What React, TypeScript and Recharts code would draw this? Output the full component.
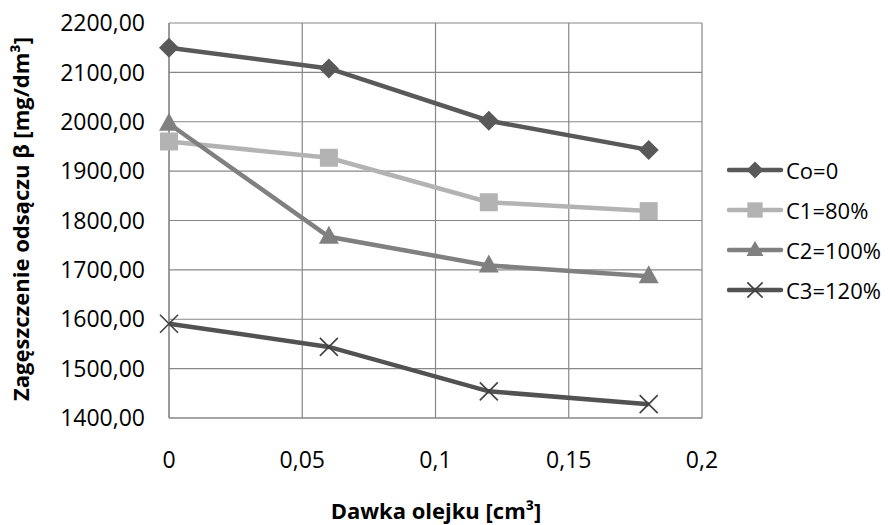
import React from 'react';
import { LineChart, Line, XAxis, YAxis, CartesianGrid, Legend } from 'recharts';

const doses = [0, 0.06, 0.12, 0.18];
const co0 = [2150, 2108, 2002, 1943];
const c1 = [1960, 1927, 1837, 1819];
const c2 = [1996, 1767, 1709, 1687];
const c3 = [1591, 1544, 1454, 1428];
const xTicks = [0, 0.05, 0.1, 0.15, 0.2];
const yTicks = [1400, 1500, 1600, 1700, 1800, 1900, 2000, 2100, 2200];
const seriesNames = ['Co=0', 'C1=80%', 'C2=100%', 'C3=120%'];
const xTitle = 'Dawka olejku [cm³]';
const yTitle = 'Zagęszczenie odsączu β [mg/dm³]';

const data = doses.map((d, i) => ({ dose: d, co0: co0[i], c1: c1[i], c2: c2[i], c3: c3[i] }));

const FONT = '"Open Sans", sans-serif';
const GRID = '#878787';

type Shape = 'diamond' | 'square' | 'triangle' | 'x';
const series: { key: string; name: string; color: string; marker: string; shape: Shape }[] = [
  { key: 'co0', name: seriesNames[0], color: '#595959', marker: '#595959', shape: 'diamond' },
  { key: 'c1', name: seriesNames[1], color: '#b3b3b3', marker: '#b3b3b3', shape: 'square' },
  { key: 'c2', name: seriesNames[2], color: '#808080', marker: '#808080', shape: 'triangle' },
  { key: 'c3', name: seriesNames[3], color: '#525252', marker: '#404040', shape: 'x' },
];

function marker(shape: Shape, cx: number, cy: number, color: string, s = 1, key?: any) {
  if (shape === 'diamond') {
    const h = 10 * s;
    return <polygon key={key} points={`${cx},${cy - h} ${cx + h},${cy} ${cx},${cy + h} ${cx - h},${cy}`} fill={color} />;
  }
  if (shape === 'square') {
    const h = 9 * s;
    return <rect key={key} x={cx - h} y={cy - h} width={2 * h} height={2 * h} fill={color} />;
  }
  if (shape === 'triangle') {
    const w = 10 * s;
    return <polygon key={key} points={`${cx},${cy - 11 * s} ${cx + w},${cy + 7 * s} ${cx - w},${cy + 7 * s}`} fill={color} />;
  }
  const h = 9 * s;
  return (
    <g key={key}>
      <line x1={cx - h} y1={cy - h} x2={cx + h} y2={cy + h} stroke={color} strokeWidth={1.6} />
      <line x1={cx - h} y1={cy + h} x2={cx + h} y2={cy - h} stroke={color} strokeWidth={1.6} />
    </g>
  );
}

const makeDot = (shape: Shape, color: string) => (props: any) => {
  const { cx, cy, index } = props;
  if (cx == null || cy == null) return <g key={index} />;
  return marker(shape, cx, cy, color, 1, index);
};

const renderLegend = () => (
  <div style={{ fontFamily: FONT, fontSize: 22, color: '#000' }}>
    {series.map((s) => (
      <div key={s.key} style={{ display: 'flex', alignItems: 'center', height: 40 }}>
        <svg width={59} height={40} style={{ display: 'block' }}>
          <line x1={2} y1={20} x2={54} y2={20} stroke={s.color} strokeWidth={4.5} strokeLinecap="round" />
          {marker(s.shape, 28, 20, s.marker, 0.85)}
        </svg>
        <span style={{ whiteSpace: 'nowrap', lineHeight: '40px' }}>{s.name}</span>
      </div>
    ))}
  </div>
);

const fmtY = (v: number) => v.toFixed(2).replace('.', ',');
const fmtX = (v: number) => String(v).replace('.', ',');

export default function App() {
  return (
    <div style={{ position: 'absolute', left: 0, top: 0, width: 890, height: 525, background: '#fff' }}>
      <LineChart
        width={890}
        height={525}
        data={data}
        margin={{ top: 23, right: 188, bottom: 0, left: 0 }}
        style={{ fontFamily: FONT }}
      >
        <CartesianGrid stroke={GRID} strokeWidth={1.2} />
        <XAxis
          dataKey="dose"
          type="number"
          domain={[0, 0.2]}
          ticks={xTicks}
          tickFormatter={fmtX}
          height={107}
          tickLine={false}
          tickSize={0}
          tickMargin={34}
          axisLine={{ stroke: GRID, strokeWidth: 1.2 }}
          tick={{ fill: '#000', fontSize: 23, fontFamily: FONT }}
          interval={0}
          label={{
            content: () => (
              <text x={436} y={510} textAnchor="middle" dominantBaseline="central" fontFamily={FONT} fontWeight="bold" fontSize={22} fill="#000">
                {xTitle}
              </text>
            ),
          }}
        />
        <YAxis
          type="number"
          domain={[1400, 2200]}
          ticks={yTicks}
          tickFormatter={fmtY}
          width={169}
          tickLine={false}
          tickSize={0}
          tickMargin={24}
          axisLine={{ stroke: GRID, strokeWidth: 1.2 }}
          tick={{ fill: '#000', fontSize: 23, fontFamily: FONT }}
          interval={0}
          label={{
            content: () => (
              <text x={20} y={219} transform="rotate(-90 20 219)" textAnchor="middle" dominantBaseline="central" fontFamily={FONT} fontWeight="bold" fontSize={22} fill="#000">
                {yTitle}
              </text>
            ),
          }}
        />
        <Legend
          layout="vertical"
          align="center"
          verticalAlign="middle"
          content={renderLegend}
          wrapperStyle={{ position: 'absolute', left: 727, top: 150, width: 163, height: 160 }}
        />
        {series.map((s) => (
          <Line
            key={s.key}
            dataKey={s.key}
            name={s.name}
            type="linear"
            stroke={s.color}
            strokeWidth={4.5}
            dot={makeDot(s.shape, s.marker)}
            activeDot={false}
            isAnimationActive={false}
          />
        ))}
      </LineChart>
    </div>
  );
}
